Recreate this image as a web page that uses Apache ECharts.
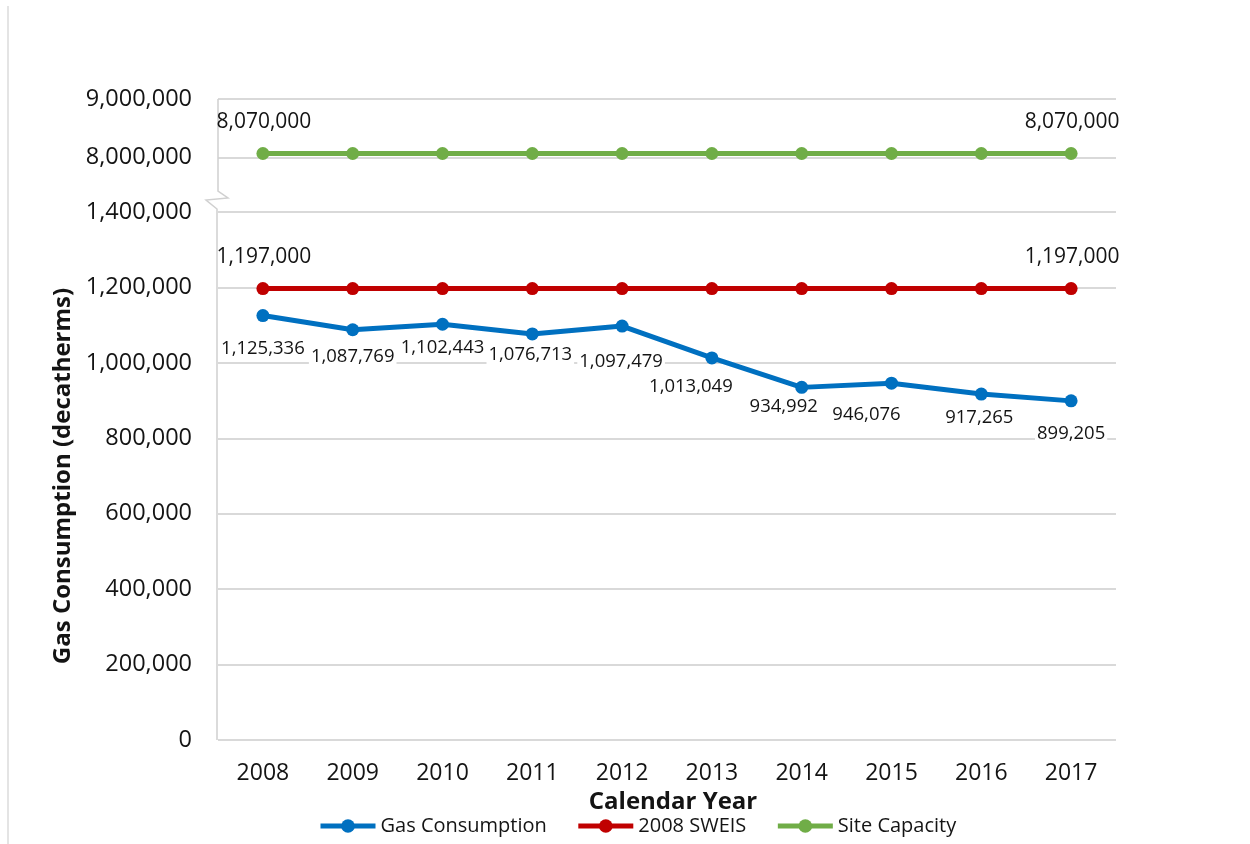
<!DOCTYPE html>
<html>
<head>
<meta charset="utf-8">
<script src="https://cdn.jsdelivr.net/npm/echarts@6/dist/echarts.min.js"></script>
<style>
html,body{margin:0;padding:0;background:#fff;}
#c{width:1250px;height:844px;}
#edge{position:absolute;left:7px;top:6px;width:2px;height:838px;background:#e4e4e4;}
</style>
</head>
<body>
<div id="c"></div>
<div id="edge"></div>
<script>
// ---- data ----
const years = ['2008','2009','2010','2011','2012','2013','2014','2015','2016','2017'];
const gasConsumption = [1125336, 1087769, 1102443, 1076713, 1097479, 1013049, 934992, 946076, 917265, 899205];
const sweis2008 = [1197000, 1197000, 1197000, 1197000, 1197000, 1197000, 1197000, 1197000, 1197000, 1197000];
const siteCapacity = [8070000, 8070000, 8070000, 8070000, 8070000, 8070000, 8070000, 8070000, 8070000, 8070000];
const lowerAxisTicks = [0, 200000, 400000, 600000, 800000, 1000000, 1200000, 1400000];
const upperAxisTicks = [8000000, 9000000];
const seriesNames = ['Gas Consumption', '2008 SWEIS', 'Site Capacity'];

// ---- styling (not data) ----
const gasLabelOffsets = [[0,33],[0,27],[0,24],[-2,21],[-1,36],[-21,29],[-18,19],[-25,32],[-2,24],[0,33]];
const FONT = "'Open Sans', 'Noto Sans', sans-serif";
const TXT = '#141414';
const GRIDC = '#d9d9d9';
const COLORS = ['#0070C0', '#C00000', '#70AD47'];
const fmt = v => Number(v).toLocaleString('en-US');

const chart = echarts.init(document.getElementById('c'));

function endLabels(arr) {
  return arr.map((v, i) => ({
    value: v,
    label: { show: i === 0 || i === arr.length - 1 }
  }));
}

const lineBase = {
  type: 'line',
  symbol: 'circle',
  symbolSize: 13,
  lineStyle: { width: 5 },
  emphasis: { disabled: true },
  animation: false
};

const option = {
  backgroundColor: '#fff',
  textStyle: { fontFamily: FONT, color: TXT },
  legend: {
    data: seriesNames,
    left: 318,
    top: 816,
    itemWidth: 55,
    itemHeight: 17,
    itemGap: 29,
    lineStyle: { width: 5 },
    textStyle: { fontFamily: FONT, fontSize: 20, color: TXT },
    padding: 0
  },
  grid: [
    { left: 218, width: 898, top: 212, height: 528 },
    { left: 218, width: 898, top: 99, height: 58.6 }
  ],
  xAxis: [
    {
      type: 'category', gridIndex: 0, data: years, boundaryGap: true,
      axisLine: { show: false }, axisTick: { show: false },
      axisLabel: { fontSize: 23, color: TXT, fontFamily: FONT, margin: 22 },
      name: 'Calendar Year', nameLocation: 'middle', nameGap: 45,
      nameTextStyle: { fontSize: 24, fontWeight: 'bold', color: TXT, fontFamily: FONT, padding: [0, 0, 0, 12] }
    },
    {
      type: 'category', gridIndex: 1, data: years, boundaryGap: true, show: false
    }
  ],
  yAxis: [
    {
      type: 'value', gridIndex: 0,
      min: lowerAxisTicks[0], max: lowerAxisTicks[lowerAxisTicks.length - 1],
      interval: lowerAxisTicks[1] - lowerAxisTicks[0],
      axisLine: { show: false }, axisTick: { show: false },
      splitLine: { lineStyle: { color: GRIDC, width: 2 } },
      axisLabel: { fontSize: 23.5, color: TXT, fontFamily: FONT, margin: 26, formatter: fmt },
      name: 'Gas Consumption (decatherms)', nameLocation: 'middle', nameGap: 143,
      nameTextStyle: { fontSize: 24, fontWeight: 'bold', color: TXT, fontFamily: FONT }
    },
    {
      type: 'value', gridIndex: 1,
      min: upperAxisTicks[0], max: upperAxisTicks[upperAxisTicks.length - 1],
      interval: upperAxisTicks[1] - upperAxisTicks[0],
      axisLine: { show: false }, axisTick: { show: false },
      splitLine: { lineStyle: { color: GRIDC, width: 2 } },
      axisLabel: { fontSize: 23.5, color: TXT, fontFamily: FONT, margin: 26, formatter: fmt }
    }
  ],
  series: [
    Object.assign({}, lineBase, {
      name: seriesNames[0], xAxisIndex: 0, yAxisIndex: 0,
      itemStyle: { color: COLORS[0] }, lineStyle: { width: 5, color: COLORS[0] },
      z: 4,
      data: gasConsumption.map((v, i) => ({ value: v, label: { offset: gasLabelOffsets[i] } })),
      label: {
        show: true, position: 'inside', formatter: p => fmt(p.value),
        fontSize: 18.5, color: TXT, fontFamily: FONT,
        backgroundColor: '#fff', padding: [0, 2]
      }
    }),
    Object.assign({}, lineBase, {
      name: seriesNames[1], xAxisIndex: 0, yAxisIndex: 0,
      itemStyle: { color: COLORS[1] }, lineStyle: { width: 5, color: COLORS[1] },
      z: 3,
      data: endLabels(sweis2008),
      label: {
        show: false, position: 'inside', offset: [1, -32], formatter: p => fmt(p.value),
        fontSize: 21, color: TXT, fontFamily: FONT
      }
    }),
    Object.assign({}, lineBase, {
      name: seriesNames[2], xAxisIndex: 1, yAxisIndex: 1,
      itemStyle: { color: COLORS[2] }, lineStyle: { width: 5, color: COLORS[2] },
      z: 3,
      data: endLabels(siteCapacity),
      label: {
        show: false, position: 'inside', offset: [1, -31], formatter: p => fmt(p.value),
        fontSize: 21, color: TXT, fontFamily: FONT
      }
    })
  ]
};

chart.setOption(option);

// axis line with break symbol, positioned from the axes' own scales
function drawAxisBreak() {
  const xa = chart.convertToPixel({ xAxisIndex: 0 }, 0);
  const xb = chart.convertToPixel({ xAxisIndex: 0 }, 1);
  const x = xa - (xb - xa) / 2;
  const yTop = chart.convertToPixel({ yAxisIndex: 1 }, upperAxisTicks[upperAxisTicks.length - 1]);
  const yLowTop = chart.convertToPixel({ yAxisIndex: 0 }, lowerAxisTicks[lowerAxisTicks.length - 1]);
  const yBottom = chart.convertToPixel({ yAxisIndex: 0 }, lowerAxisTicks[0]);
  const yb = yLowTop - 13;
  const st = { stroke: '#d0d0d0', lineWidth: 1.5, fill: null };
  chart.setOption({
    graphic: [
      { type: 'polyline', silent: true, z: 1,
        shape: { points: [[x, yTop], [x, yb - 8], [x + 10, yb - 1], [x - 12, yb + 1], [x - 1, yb + 10], [x - 1, yBottom]] },
        style: st }
    ]
  });
}
drawAxisBreak();
</script>
</body>
</html>
